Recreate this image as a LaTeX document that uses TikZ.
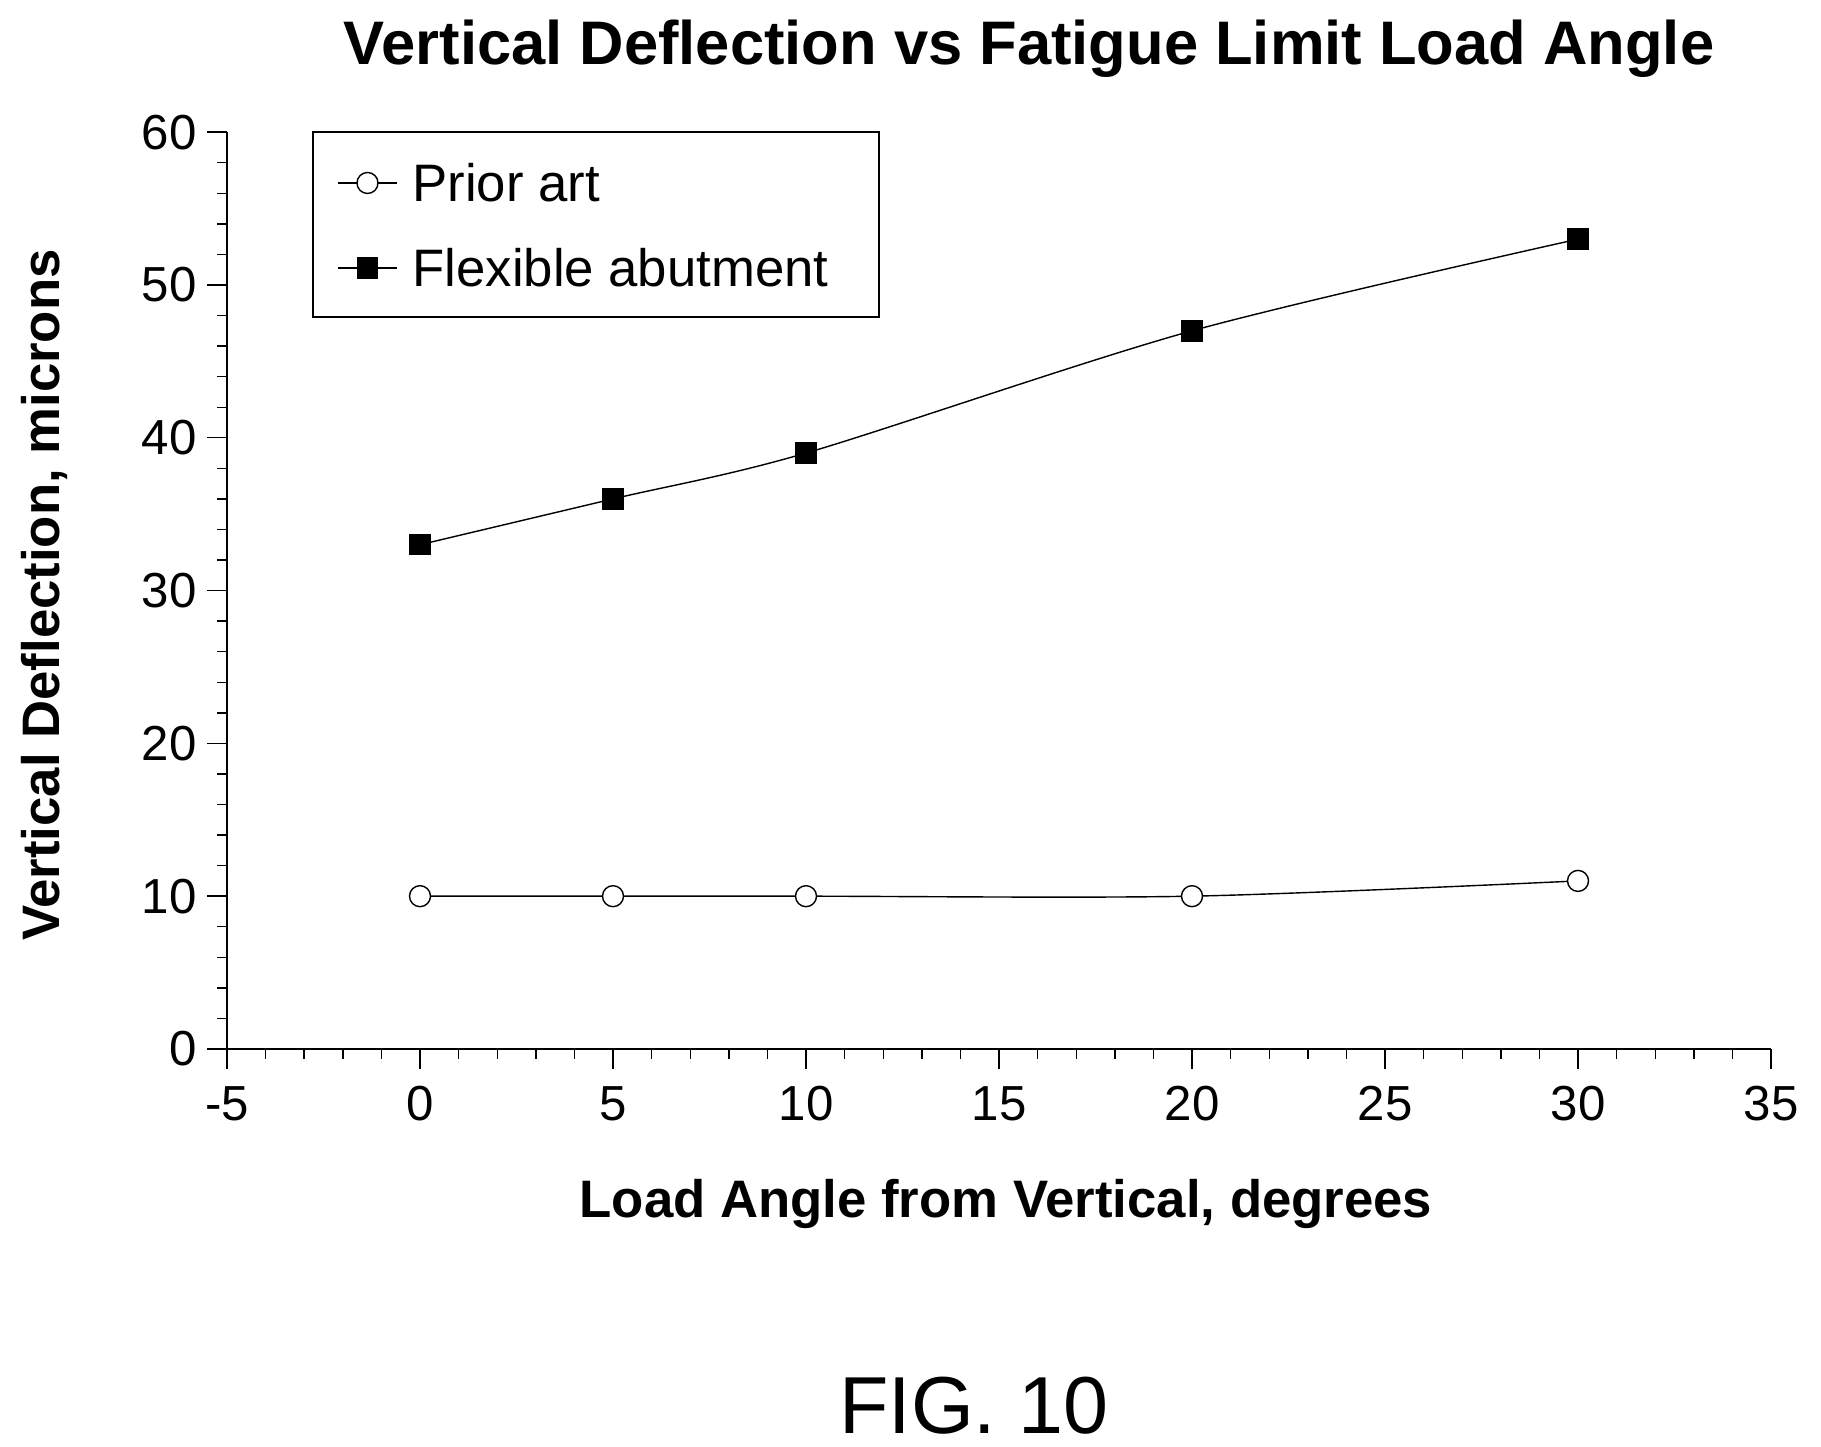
\documentclass[tikz,border=0pt]{standalone}
\usepackage{fontspec}
\setmainfont{Liberation Sans}
\usetikzlibrary{positioning,calc}

\begin{document}
\begin{tikzpicture}[
    ticklabel/.style={font=\fontsize{14}{16}\selectfont},
    axislabel/.style={font=\fontsize{15}{18}\selectfont\bfseries},
    curve/.style={thin, black},
    openmark/.style={circle, draw, fill=white, minimum size=0.21cm, inner sep=0pt},
    fullmark/.style={rectangle, draw, fill=black, minimum size=0.2cm, inner sep=0pt}
]
\useasboundingbox (0,0) rectangle (18.21,14.47);

\node[font=\fontsize{17.5}{20}\selectfont\bfseries] (title) at (10.29,13.98) {Vertical Deflection vs Fatigue Limit Load Angle};

\begin{scope}[shift={(4.20,3.98)}, x=0.386cm, y=0.1528cm]
  % axes
  \draw[thick] (-5,60) -- (-5,0) -- (35,0);
  \foreach \t in {0,2,...,60} \draw (-5,\t) -- ++(-0.1cm,0);
  \foreach \t in {0,10,...,60} {
    \draw (-5,\t) -- ++(-0.2cm,0);
    \node[ticklabel, anchor=east] at ([xshift=-0.18cm]-5,\t) {\t};
  }
  \foreach \t in {-5,...,35} \draw (\t,0) -- ++(0,-0.1cm);
  \foreach \t in {-5,0,...,35} {
    \draw (\t,0) -- ++(0,-0.2cm);
    \node[ticklabel, anchor=north] at ([yshift=-0.25cm]\t,0) {\t};
  }

  % data
  \draw[curve] plot[smooth, tension=0.5] coordinates {(0,10) (5,10) (10,10) (20,10) (30,11)};
  \draw[curve] plot[smooth, tension=0.5] coordinates {(0,33) (5,36) (10,39) (20,47) (30,53)};
  \foreach \x/\y in {0/10,5/10,10/10,20/10,30/11} \node[openmark] at (\x,\y) {};
  \foreach \x/\y in {0/33,5/36,10/39,20/47,30/53} \node[fullmark] at (\x,\y) {};
\end{scope}

% legend
\draw (3.13,14.47-1.32) rectangle (8.79,14.47-3.17);
\coordinate (la) at (3.38,12.64);
\coordinate (lb) at (3.97,12.64);
\coordinate (lc) at (3.38,11.79);
\coordinate (ld) at (3.97,11.79);
\draw[curve] (la) -- (lb);
\draw[curve] (lc) -- (ld);
\node[openmark] (m1) at ($(la)!0.5!(lb)$) {};
\node[fullmark] (m2) at ($(lc)!0.5!(ld)$) {};
\node[anchor=west, font=\fontsize{15}{18}\selectfont] (prior) at (4.0,12.64) {Prior art};
\node[anchor=west, font=\fontsize{15}{18}\selectfont] (flex) at (4.0,11.79) {Flexible abutment};

\node[axislabel, rotate=90] (ylab) at (0.44,14.47-5.95) {Vertical Deflection, microns};
\node[axislabel] (xlab) at (10.06,14.47-12.04) {Load Angle from Vertical, degrees};
\node[font=\fontsize{23}{26}\selectfont] (fig) at (9.74,14.47-14.06) {FIG. 10};
\end{tikzpicture}
\end{document}
